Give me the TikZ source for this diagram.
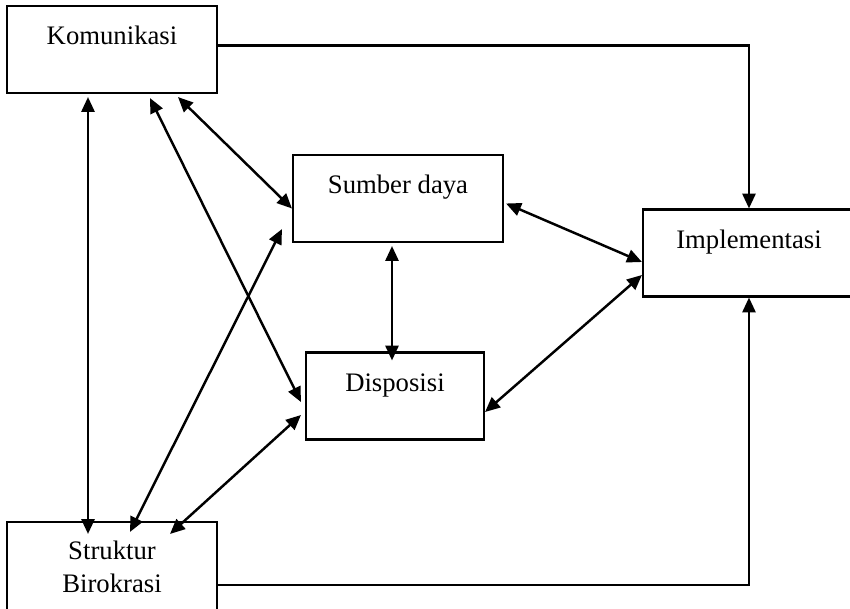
\documentclass[tikz,border=0pt]{standalone}
\usepackage{fontspec}
\setmainfont{Liberation Serif}
\usetikzlibrary{arrows.meta,calc}
\tikzset{
  box/.style={draw, line width=1.2pt, inner sep=0pt, minimum width=4.2cm,
              text height=0.77cm, text depth=0.97cm,
              font=\fontsize{15.2}{19}\selectfont},
  link/.style={line width=1.4pt, >={Triangle[length=8.5pt,width=7.5pt]}}
}
\begin{document}
\begin{tikzpicture}[x=0.02cm, y=-0.02cm]
  \useasboundingbox (0,0) rectangle (850,609);
  \node[box] (kom) at (112,49.5) {Komunikasi};
  \node[box] (sd)  at (398,198.5) {Sumber daya};
  \node[box, minimum width=3.56cm] (dis) at (395,396) {Disposisi};
  \node[box, minimum width=4.24cm] (imp) at (749,253) {Implementasi};
  \node[box, text height=, text depth=, minimum height=1.8cm, align=center]
       (sb) at (112,567) {Struktur\\Birokrasi};

  \draw[link,->] ([yshift=0.08cm]kom.east) -| (imp.north);
  \draw[link,->] ([yshift=-0.36cm]sb.east) -| (imp.south);

  \draw[link,<->] ($(kom.south)+(-24,3)$) -- ($(sb.north)+(-24,13)$);
  \draw[link,<->] ($(kom.south)+(38,4)$) -- ($(dis.west)+(-4,6)$);
  \draw[link,<->] ($(kom.south)+(66,3)$) -- ($(sd.west)+(0,10)$);
  \draw[link,<->] ($(sb.north)+(18,11)$) -- ($(sd.south west)+(-10,-14)$);
  \draw[link,<->] ($(sb.north)+(58,13)$) -- ($(dis.west)+(-4,19)$);
  \draw[link,<->] ($(sd.south)+(-6,3)$) -- ($(dis.north)+(-3,9)$);
  \draw[link,<->] ($(sd.east)+(2,5)$) -- ($(imp.west)+(0,9)$);
  \draw[link,<->] ($(dis.east)+(0,16)$) -- ($(imp.west)+(0,22)$);
\end{tikzpicture}
\end{document}
